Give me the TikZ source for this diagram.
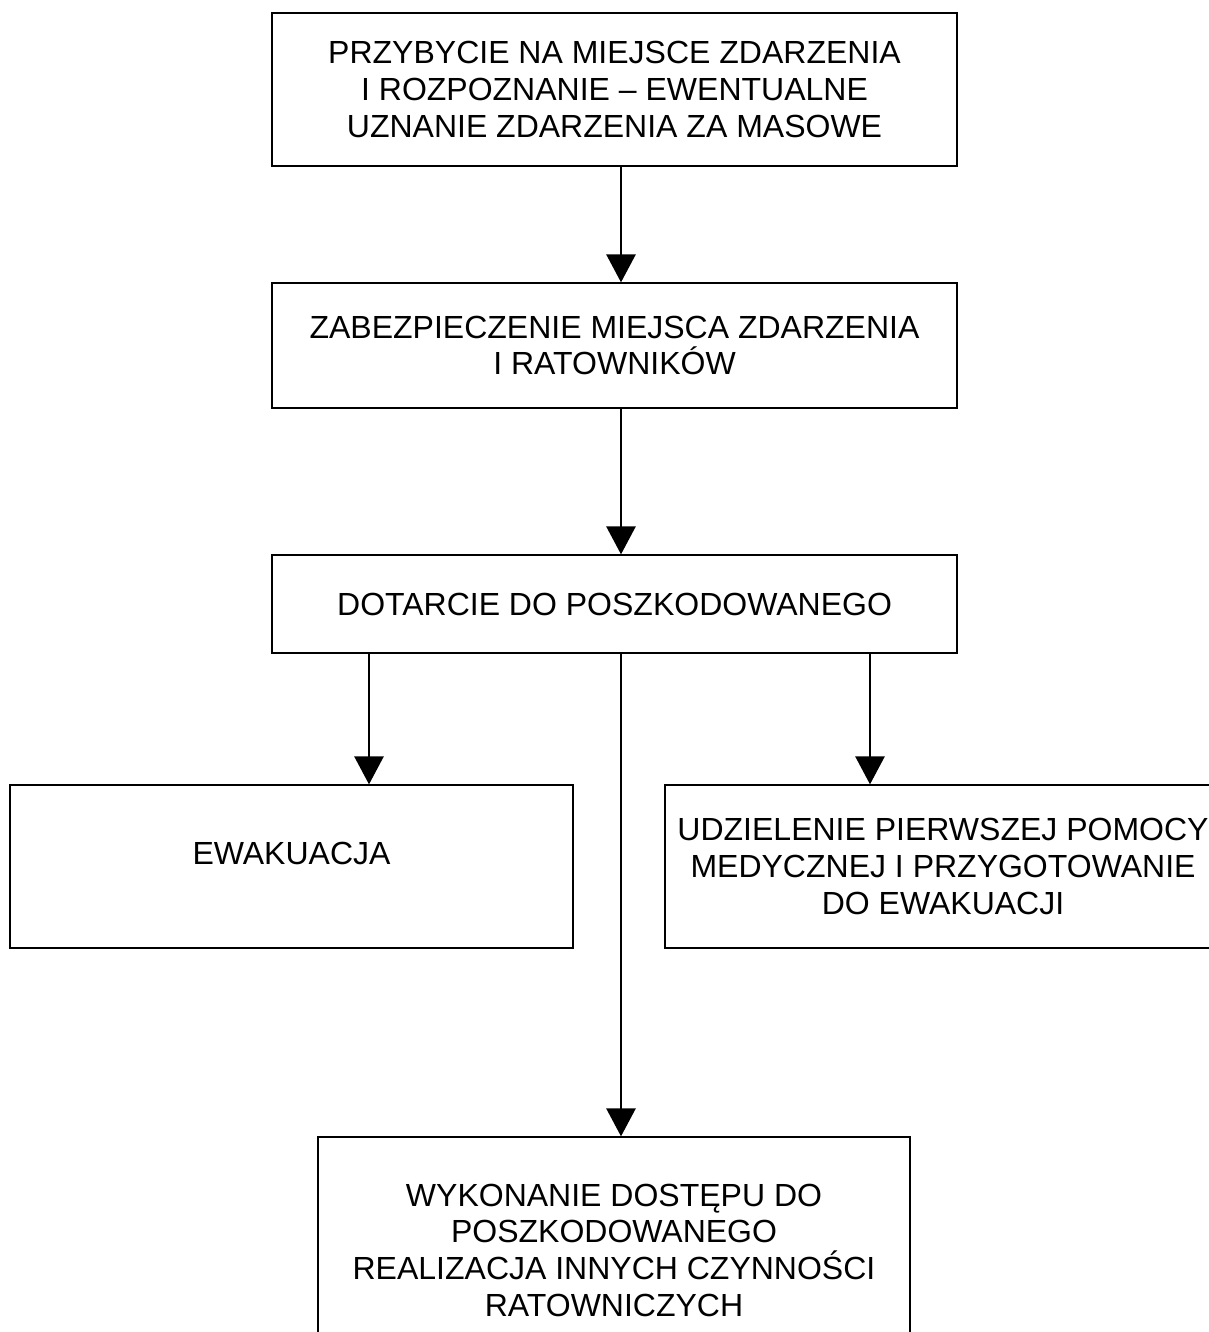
\documentclass[tikz,border=0pt]{standalone}
\usepackage{fontspec}
\setmainfont{Liberation Sans}
\usetikzlibrary{arrows.meta,positioning}
\tikzset{
  stepbox/.style={draw, line width=1pt, align=center, inner sep=0pt,
    font=\fontsize{24}{27.5}\selectfont},
  flow/.style={line width=1.3pt, -{Triangle[length=21pt, width=22pt]}}
}

\begin{document}
\begin{tikzpicture}[x=0.75pt, y=-0.75pt]
    \useasboundingbox (0,0) rectangle (1209,1332);
    \clip (0,0) rectangle (1209,1332);
    % define boxes
    % main column
    \node[stepbox, minimum width=513.75pt, minimum height=114.75pt] (arrival) at (614.5, 89.5)
        {PRZYBYCIE NA MIEJSCE ZDARZENIA\\I ROZPOZNANIE -- EWENTUALNE\\UZNANIE ZDARZENIA ZA MASOWE};
    \node[stepbox, minimum width=513.75pt, minimum height=93.75pt] (securing) at (614.5, 345.5)
        {ZABEZPIECZENIE MIEJSCA ZDARZENIA\\I RATOWNIKÓW};
    \node[stepbox, minimum width=513.75pt, minimum height=73.5pt] (reaching) at (614.5, 604)
        {DOTARCIE DO POSZKODOWANEGO};
    % branches
    \node[stepbox, minimum width=422.25pt, minimum height=122.25pt, text depth=20pt] (evacuation) at (291.5, 866.5)
        {EWAKUACJA};
    \node[stepbox, minimum width=417pt, minimum height=122.25pt] (firstaid) at (943, 866.5)
        {UDZIELENIE PIERWSZEJ POMOCY\\MEDYCZNEJ I PRZYGOTOWANIE\\DO EWAKUACJI};
    \node[stepbox, minimum width=444pt, minimum height=169.5pt] (access) at (614, 1250)
        {WYKONANIE DOSTĘPU DO\\POSZKODOWANEGO\\REALIZACJA INNYCH CZYNNOŚCI\\RATOWNICZYCH};
    % arrow start points
    \coordinate (split_left) at (369, 653);
    \coordinate (split_mid) at (621, 653);
    \coordinate (split_right) at (870, 653);
    % draw arrows
    \draw[flow] (arrival.south -| split_mid) -- (securing.north -| split_mid);
    \draw[flow] (securing.south -| split_mid) -- (reaching.north -| split_mid);
    \draw[flow] (split_left) -- (split_left |- evacuation.north);
    \draw[flow] (split_mid) -- (split_mid |- access.north);
    \draw[flow] (split_right) -- (split_right |- firstaid.north);
\end{tikzpicture}
\end{document}
